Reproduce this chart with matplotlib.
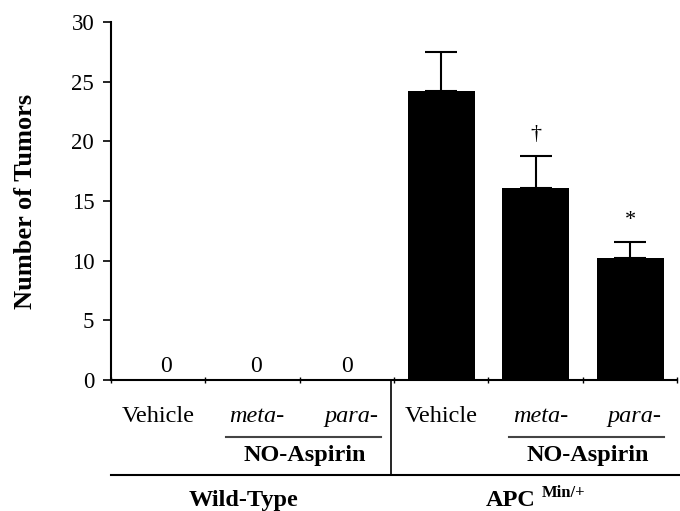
import matplotlib.pyplot as plt
import numpy as np

plt.rcParams['font.family'] = ['Liberation Serif', 'DejaVu Serif']

groups = ['Wild-Type', 'APC']
treatments = ['Vehicle', 'meta-', 'para-', 'Vehicle', 'meta-', 'para-']
tumors = [0, 0, 0, 24.2, 16.1, 10.2]
sem = [0, 0, 0, 3.3, 2.7, 1.4]
marks = ['', '', '', '', '\u2020', '*']

x = np.arange(len(tumors))

fig = plt.figure(figsize=(6.8, 5.11), dpi=100)
ax = fig.add_axes([0.163, 0.256, 0.833, 0.701])

ax.bar(x, tumors, width=0.71, color='black')
for i in range(3, 6):
    ax.errorbar(x[i], tumors[i], yerr=[[0], [sem[i]]], color='black',
                capsize=11.5, elinewidth=1.5, capthick=1.5)
    if marks[i]:
        ax.text(x[i], tumors[i] + sem[i] + 1.0, marks[i], ha='center',
                va='bottom', fontsize=16)
# zero counts for the wild-type mice
for i in range(3):
    ax.text(x[i] + 0.08 - 0.04 * i, 0.25, '0', ha='center', va='bottom',
            fontsize=17)

ax.set_xlim(-0.5, 5.5)
ax.set_ylim(0, 30)
ax.set_yticks(np.arange(0, 31, 5))
ax.tick_params(axis='y', direction='out', length=6, width=1.2, labelsize=16.5, pad=6)
ax.set_xticks([])
ax.set_xticks(np.arange(-0.5, 6, 1), minor=True)
ax.tick_params(axis='x', which='minor', direction='inout', length=5, width=1)
for s in ['top', 'right']:
    ax.spines[s].set_visible(False)
ax.spines['left'].set_linewidth(1.5)
ax.spines['bottom'].set_linewidth(1.5)
ax.set_ylabel('Number of Tumors', fontsize=19, fontweight='bold', labelpad=25)

# category table under the axis
tr = ax.get_xaxis_transform()
for i, t in enumerate(treatments):
    style = 'normal' if t == 'Vehicle' else 'italic'
    ax.text(x[i] + (0.05 if t != 'Vehicle' else 0), -0.10, t, transform=tr,
            ha='center', va='center', fontsize=17.5, fontstyle=style)

for start in [0, 3]:
    ax.plot([start + 0.72, start + 2.36], [-0.159, -0.159], transform=tr,
            color='#444444', lw=1.5, clip_on=False)
    ax.text(start + 1.55, -0.21, 'NO-Aspirin', transform=tr, ha='center',
            va='center', fontsize=17.5, fontweight='bold')

ax.plot([2.47, 2.47], [0, -0.265], transform=tr, color='black', lw=1.2,
        clip_on=False)
ax.plot([-0.5, 5.53], [-0.265, -0.265], transform=tr, color='black', lw=1.5,
        clip_on=False)
ax.text(0.91, -0.335, groups[0], transform=tr, ha='center', va='center',
        fontsize=17.5, fontweight='bold')
ax.text(4.0, -0.335, groups[1], transform=tr, ha='right', va='center',
        fontsize=17.5, fontweight='bold')
ax.text(4.06, -0.315, 'Min/+', transform=tr, ha='left', va='center',
        fontsize=12, fontweight='bold')

fig.savefig('out.png', dpi=100)
